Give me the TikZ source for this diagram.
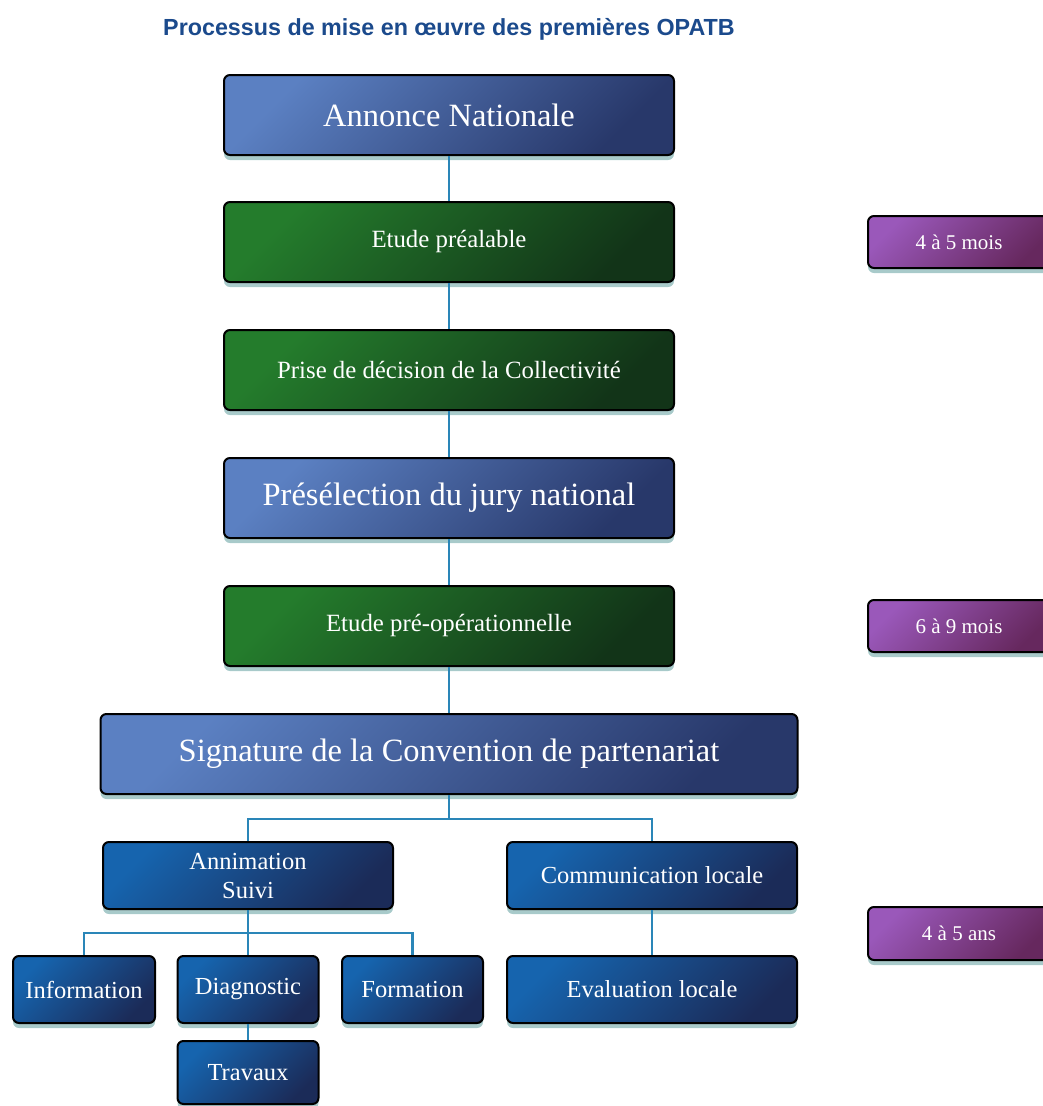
\documentclass[tikz,border=0pt]{standalone}
\usepackage{fontspec}
\setmainfont{Liberation Serif}
\newfontfamily\titlefont{Liberation Sans}
\usetikzlibrary{shadows}
\definecolor{titleblue}{HTML}{1B4A8C}
\definecolor{bigtop}{HTML}{5B80C2}
\definecolor{bigbot}{HTML}{28386A}
\definecolor{greentop}{HTML}{247C2C}
\definecolor{greenbot}{HTML}{123418}
\definecolor{bluetop}{HTML}{1664AE}
\definecolor{bluebot}{HTML}{1B2B58}
\definecolor{purpletop}{HTML}{9A58BA}
\definecolor{purplebot}{HTML}{66285E}
\definecolor{linkblue}{HTML}{2A86B8}
\definecolor{shadowteal}{HTML}{3E8A8A}

\begin{document}
\begin{tikzpicture}[x=1pt,y=-1pt,
  box/.style={draw=black,line width=2pt,rounded corners=6pt,inner sep=0pt,text=white,align=center,
    drop shadow={shadow xshift=0pt,shadow yshift=-5pt,fill=shadowteal,opacity=.45}},
  bigbox/.style={box,top color=bigtop,bottom color=bigbot,shading angle=45,minimum width=450pt,minimum height=80pt,font=\fontsize{32.5}{36}\selectfont},
  greenbox/.style={box,top color=greentop,bottom color=greenbot,shading angle=45,minimum width=450pt,minimum height=80pt,font=\fontsize{24.8}{28}\selectfont},
  bluebox/.style={box,top color=bluetop,bottom color=bluebot,shading angle=45,minimum height=67pt,font=\fontsize{24.5}{29}\selectfont},
  timebox/.style={box,top color=purpletop,bottom color=purplebot,shading angle=45,minimum width=182pt,minimum height=52pt,font=\fontsize{21}{24}\selectfont},
  link/.style={draw=linkblue,line width=2.4pt}]
  \useasboundingbox (0,0) rectangle (1043,1106);

  \node[font=\titlefont\bfseries\fontsize{23.3}{26}\selectfont,text=titleblue] (title) at (449,29) {Processus de mise en œuvre des premières OPATB};

  % main column
  \node[bigbox] (annonce) at (449,115) {Annonce Nationale};
  \node[greenbox] (prealable) at (449,242) {Etude préalable};
  \node[greenbox] (decision) at (449,370) {Prise de décision de la Collectivité};
  \node[bigbox] (preselection) at (449,498) {Présélection du jury national};
  \node[greenbox] (preop) at (449,626) {Etude pré-opérationnelle};
  \node[bigbox,minimum width=697pt] (signature) at (449,754) {Signature de la Convention de partenariat};

  % lower branches
  \node[bluebox,minimum width=290pt] (animation) at (248,875.5) {Annimation\\Suivi};
  \node[bluebox,minimum width=290pt] (communication) at (652,875.5) {Communication locale};
  \node[bluebox,minimum width=142pt] (information) at (84,989.5) {Information};
  \node[bluebox,minimum width=141pt] (diagnostic) at (248,989.5) {Diagnostic};
  \node[bluebox,minimum width=141pt] (formation) at (412.5,989.5) {Formation};
  \node[bluebox,minimum width=141pt,minimum height=63pt] (travaux) at (248,1072.5) {Travaux};
  \node[bluebox,minimum width=290pt] (evaluation) at (652,989.5) {Evaluation locale};

  % durations
  \node[timebox] (mois1) at (959,242) {4 à 5 mois};
  \node[timebox] (mois2) at (959,626) {6 à 9 mois};
  \node[timebox,minimum height=53pt] (ans) at (959,933.5) {4 à 5 ans};

  \draw[link] (annonce) -- (prealable);
  \draw[link] (prealable) -- (decision);
  \draw[link] (decision) -- (preselection);
  \draw[link] (preselection) -- (preop);
  \draw[link] (preop) -- (signature);
  \draw[link] (signature.south) -- ++(0,24) -| (animation.north);
  \draw[link] (signature.south) -- ++(0,24) -| (communication.north);
  \draw[link] (animation.south) -- ++(0,23) -| (information.north);
  \draw[link] (animation.south) -- (diagnostic.north);
  \draw[link] (animation.south) -- ++(0,23) -| (formation.north);
  \draw[link] (diagnostic) -- (travaux);
  \draw[link] (communication) -- (evaluation);
\end{tikzpicture}
\end{document}
